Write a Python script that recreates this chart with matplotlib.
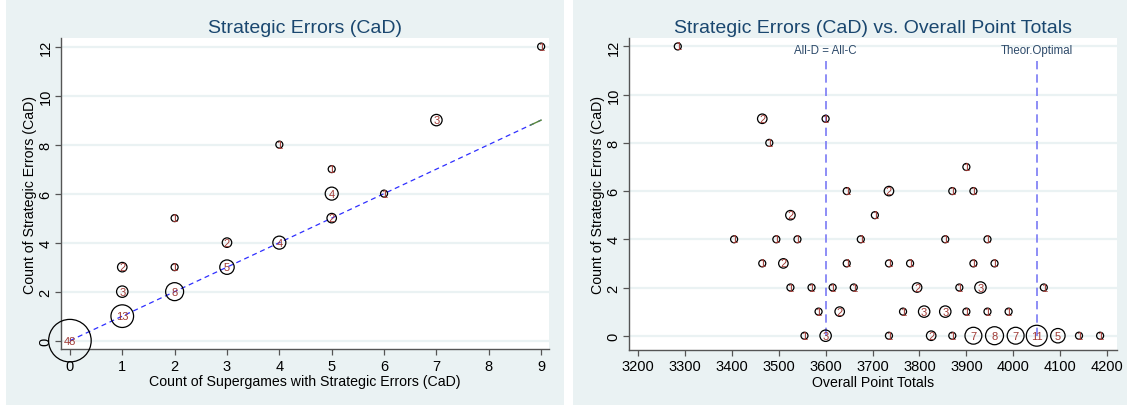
import numpy as np
import matplotlib
matplotlib.use("Agg")
import matplotlib.pyplot as plt
from matplotlib.patches import Rectangle

plt.rcParams['font.family'] = ['Liberation Sans', 'DejaVu Sans']

# --- data: left panel (supergames with errors, error count, n subjects) ---
sg_x = [0, 1, 1, 1, 2, 2, 2, 3, 3, 4, 4, 5, 5, 5, 6, 7, 9]
sg_y = [0, 1, 2, 3, 2, 3, 5, 3, 4, 4, 8, 5, 6, 7, 6, 9, 12]
sg_n = [48, 13, 3, 2, 8, 1, 1, 5, 2, 4, 1, 2, 4, 1, 1, 3, 1]

# --- data: right panel (overall points, error count, n subjects) ---
pts_x = [3285,
         3465, 3600,
         3480,
         3900,
         3645, 3735, 3870, 3915,
         3525, 3705,
         3405, 3495, 3540, 3675, 3855, 3945,
         3465, 3510, 3645, 3735, 3780, 3915, 3960,
         3525, 3570, 3615, 3660, 3795, 3885, 3930, 4065,
         3585, 3630, 3765, 3810, 3855, 3900, 3945, 3990,
         3555, 3600, 3735, 3825, 3870, 3915, 3960, 4005, 4050, 4095, 4140, 4185]
pts_y = [12,
         9, 9,
         8,
         7,
         6, 6, 6, 6,
         5, 5,
         4, 4, 4, 4, 4, 4,
         3, 3, 3, 3, 3, 3, 3,
         2, 2, 2, 2, 2, 2, 2, 2,
         1, 1, 1, 1, 1, 1, 1, 1,
         0, 0, 0, 0, 0, 0, 0, 0, 0, 0, 0, 0]
pts_n = [1,
         2, 1,
         1,
         1,
         1, 2, 1, 1,
         2, 1,
         1, 1, 1, 1, 1, 1,
         1, 2, 1, 1, 1, 1, 1,
         1, 1, 1, 1, 2, 1, 3, 1,
         1, 2, 1, 3, 3, 1, 1, 1,
         1, 3, 1, 2, 1, 7, 8, 7, 11, 5, 1, 1]

ref_lines = [3600, 4050]
ref_labels = ['All-D = All-C', 'Theor.Optimal']

BG = '#EAF2F3'
TITLE_C = '#1A476F'
LABEL_C = '#A03A35'
DPI = 100


def marker_area(n):
    # circle radius in px grows with sqrt(count), converted to points^2
    r_px = 3.0 * np.sqrt(np.asarray(n, dtype=float)) + 0.5
    d_pt = 2 * r_px * 72 / DPI
    return d_pt ** 2


def style_axes(ax, xlim, ylim):
    ax.set_xlim(*xlim)
    ax.set_ylim(*ylim)
    ax.set_facecolor('white')
    for s in ['top', 'right']:
        ax.spines[s].set_visible(False)
    for s in ['left', 'bottom']:
        ax.spines[s].set_color('#555555')
        ax.spines[s].set_linewidth(1.0)
    ax.set_yticks(range(0, 13, 2))
    ax.grid(axis='y', color=BG, linewidth=1.6, zorder=0)
    ax.set_axisbelow(True)
    ax.tick_params(direction='out', length=4, width=0.9, color='#555555',
                   labelsize=10.5, pad=3)
    ax.tick_params(axis='y', pad=2)
    plt.setp(ax.get_yticklabels(), rotation=90, va='center')


def bubbles(ax, x, y, n):
    ax.scatter(x, y, s=marker_area(n), facecolors='none', edgecolors='black',
               linewidths=0.9, zorder=4, clip_on=False)
    for xi, yi, ni in zip(x, y, n):
        ax.text(xi, yi, str(ni), ha='center', va='center', fontsize=8,
                color=LABEL_C, zorder=5, clip_on=False)


fig = plt.figure(figsize=(11.27, 4.06), dpi=DPI)
fig.patch.set_facecolor('white')
W, H = 1127, 406
fig.patches.append(Rectangle((6 / W, 0), (564 - 6) / W, 1, transform=fig.transFigure,
                             facecolor=BG, edgecolor='none', zorder=-10))
fig.patches.append(Rectangle((573 / W, 0), (W - 573) / W, 1, transform=fig.transFigure,
                             facecolor=BG, edgecolor='none', zorder=-10))

ax1 = fig.add_axes([61 / W, 56 / H, 488 / W, 311 / H])
ax2 = fig.add_axes([629 / W, 55.3 / H, 488 / W, 311.7 / H])

# left panel
style_axes(ax1, (-0.17, 9.15), (-0.34, 12.35))
ax1.set_xticks(range(0, 10))
ax1.plot([0, 9], [0, 9], color='#2F2FFF', linewidth=0.9, linestyle=(0, (4, 3)), zorder=3)
ax1.plot([8.8, 9], [8.8, 9], color='#5A8A3A', linewidth=1.0, zorder=3)
bubbles(ax1, sg_x, sg_y, sg_n)
ax1.set_title('Strategic Errors (CaD)', color=TITLE_C, fontsize=14, pad=4)
ax1.set_xlabel('Count of Supergames with Strategic Errors (CaD)', fontsize=10.2, labelpad=1)
ax1.set_ylabel('Count of Strategic Errors (CaD)', fontsize=10.2, labelpad=1)

# right panel
style_axes(ax2, (3181, 4221), (-0.58, 12.35))
ax2.set_xticks(range(3200, 4201, 100))
for xv, lab in zip(ref_lines, ref_labels):
    ax2.plot([xv, xv], [0, 11.55], color='#7A7AF5', linewidth=1.2,
             linestyle=(0, (5, 3)), zorder=3)
    ax2.text(xv, 11.85, lab, ha='center', va='center', fontsize=8.3,
             color='#2D4A6A', zorder=5)
bubbles(ax2, pts_x, pts_y, pts_n)
ax2.set_title('Strategic Errors (CaD) vs. Overall Point Totals', color=TITLE_C,
              fontsize=14, pad=4)
ax2.set_xlabel('Overall Point Totals', fontsize=10.2, labelpad=1)
ax2.set_ylabel('Count of Strategic Errors (CaD)', fontsize=10.2, labelpad=1)

fig.savefig('out.png', dpi=DPI)
